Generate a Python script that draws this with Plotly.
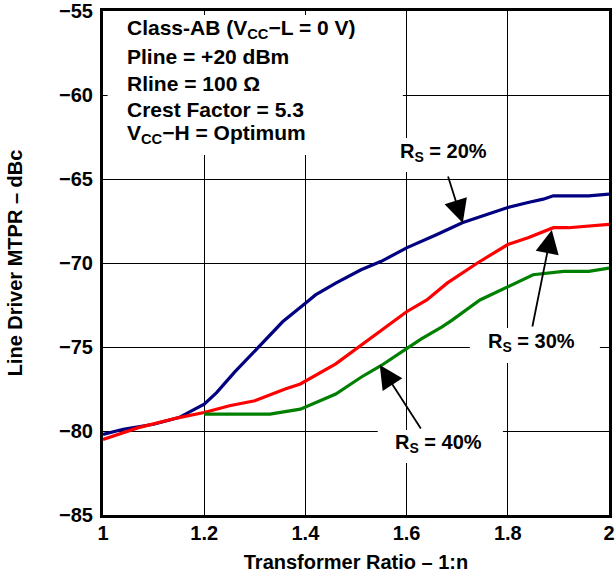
import plotly.graph_objects as go

# ---- data ----
x_rs20 = [1.0, 1.04, 1.1, 1.15, 1.2, 1.225, 1.26, 1.31, 1.355, 1.40, 1.42, 1.46, 1.51, 1.55, 1.6,
          1.66, 1.71, 1.76, 1.8, 1.84, 1.87, 1.89, 1.96, 2.0]
y_rs20 = [-80.2, -79.9, -79.6, -79.2, -78.4, -77.7, -76.5, -74.9, -73.5, -72.4, -71.9, -71.2, -70.4,
          -69.9, -69.1, -68.3, -67.6, -67.1, -66.7, -66.4, -66.2, -66.0, -66.0, -65.9]

x_rs30 = [1.0, 1.07, 1.15, 1.2, 1.25, 1.30, 1.36, 1.39, 1.46, 1.51, 1.6, 1.64, 1.68, 1.74, 1.8,
          1.84, 1.89, 1.92, 2.0]
y_rs30 = [-80.5, -79.8, -79.2, -78.9, -78.5, -78.2, -77.5, -77.2, -76.0, -74.9, -72.9, -72.2, -71.2,
          -70.0, -68.9, -68.5, -67.9, -67.9, -67.7]

x_rs40 = [1.2, 1.33, 1.39, 1.46, 1.51, 1.55, 1.6, 1.63, 1.67, 1.69, 1.745, 1.8, 1.85, 1.91, 1.96, 2.0]
y_rs40 = [-79.0, -79.0, -78.7, -77.8, -76.8, -76.1, -75.1, -74.5, -73.8, -73.4, -72.2, -71.4, -70.7,
          -70.5, -70.5, -70.3]

x_ticks = [1, 1.2, 1.4, 1.6, 1.8, 2]
x_ticktext = ["1", "1.2", "1.4", "1.6", "1.8", "2"]
y_ticks = [-85, -80, -75, -70, -65, -60, -55]
y_ticktext = ["\u221285", "\u221280", "\u221275", "\u221270", "\u221265", "\u221260", "\u221255"]

info_lines = [
    "Class-AB (V<sub>CC</sub>\u2212L = 0 V)",
    "Pline = +20 dBm",
    "Rline = 100 \u03a9",
    "Crest Factor = 5.3",
    "V<sub>CC</sub>\u2212H = Optimum",
]
info_y = [-56.1, -57.72, -59.30, -60.89, -62.35]

label_text = ["R<sub>S</sub> = 20%", "R<sub>S</sub> = 30%", "R<sub>S</sub> = 40%"]
label_x = [1.672, 1.846, 1.664]
label_y = [-63.4, -74.72, -80.76]

FONT = "Liberation Sans, Arial, sans-serif"
FS = 20

fig = go.Figure()
for xs, ys, col in [(x_rs20, y_rs20, "#000080"), (x_rs30, y_rs30, "#ff0000"), (x_rs40, y_rs40, "#008000")]:
    fig.add_trace(go.Scatter(x=xs, y=ys, mode="lines", line=dict(color=col, width=3.2), showlegend=False,
                             hoverinfo="skip"))

# white boxes behind texts (cover the grid, below the curves)
boxes = [
    (1.0091, 1.5925, -63.57, -55.24),
    (1.5668, 1.7745, -64.58, -62.56),
    (1.725, 1.982, -75.95, -73.87),
    (1.543, 1.7904, -81.90, -79.94),
]
for x0, x1, y0, y1 in boxes:
    fig.add_shape(type="rect", x0=x0, x1=x1, y0=y0, y1=y1, xref="x", yref="y",
                  fillcolor="white", line=dict(width=0), layer="between")

for t, yy in zip(info_lines, info_y):
    fig.add_annotation(x=1.0425, y=yy, xref="x", yref="y", text=t, showarrow=False,
                       xanchor="left", yanchor="middle",
                       font=dict(family=FONT, size=21, color="black", weight="bold"))

for t, xx, yy in zip(label_text, label_x, label_y):
    fig.add_annotation(x=xx, y=yy, xref="x", yref="y", text=t, showarrow=False,
                       xanchor="center", yanchor="middle",
                       font=dict(family=FONT, size=FS, color="black", weight="bold"))

# arrows (head at x,y ; tail at ax,ay)
arrows = [
    (1.711, -67.62, 1.681, -64.76),
    (1.887, -68.04, 1.848, -73.87),
    (1.547, -76.07, 1.630, -79.94),
]
for hx, hy, tx, ty in arrows:
    fig.add_annotation(x=hx, y=hy, ax=tx, ay=ty, xref="x", yref="y", axref="x", ayref="y",
                       text="", showarrow=True, arrowhead=2, arrowsize=2.6, arrowwidth=1.8,
                       arrowcolor="black", standoff=0)

axfont = dict(family=FONT, size=FS, color="black", weight="bold")
fig.update_xaxes(range=[1, 2], tickvals=x_ticks, ticktext=x_ticktext,
                 showgrid=True, gridcolor="black", gridwidth=1,
                 showline=True, linecolor="black", linewidth=3, mirror=True,
                 ticks="", ticklabelstandoff=-2,
                 zeroline=False, automargin=False, tickfont=axfont,
                 title=dict(text="Transformer Ratio \u2013 1:n", standoff=12, font=axfont))
fig.update_yaxes(range=[-85, -55], tickvals=y_ticks, ticktext=y_ticktext,
                 showgrid=True, gridcolor="black", gridwidth=1,
                 showline=True, linecolor="black", linewidth=3, mirror=True,
                 ticks="", ticklabelstandoff=3,
                 zeroline=False, automargin=False, tickfont=axfont,
                 title=dict(text="Line Driver MTPR \u2013 dBc", standoff=32, font=axfont))

fig.update_layout(width=616, height=579, margin=dict(l=103, r=7, t=11, b=64),
                  paper_bgcolor="white", plot_bgcolor="white", showlegend=False)

fig.write_html("out.html", config={"displayModeBar": False},
               post_script="document.body.style.margin='0px';")
